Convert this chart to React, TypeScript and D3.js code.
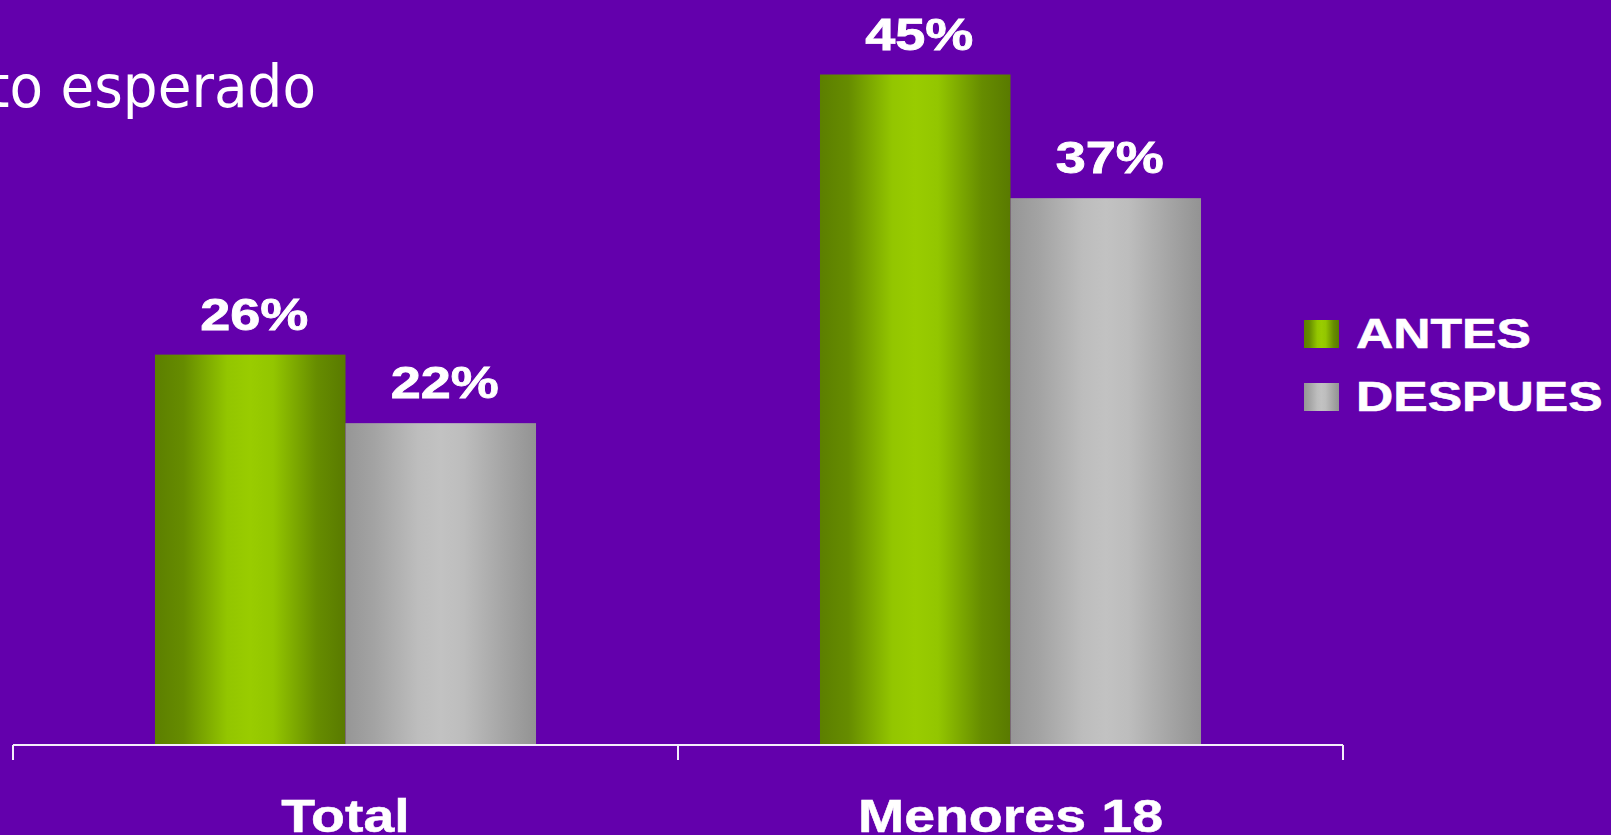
import React from "react";
import * as d3 from "d3";

const categories = ["Total", "Menores 18"];
const seriesNames = ["ANTES", "DESPUES"];
const antesValues = [26.2, 45.0];
const despuesValues = [21.6, 36.7];
const valueLabels = [["26%", "22%"], ["45%", "37%"]];
const titleText = "Impacto esperado";

const W = 1611;
const H = 835;
const BG = "#6300ac";

export default function App() {
  const baseY = 745;
  const y = d3.scaleLinear().domain([0, 50]).range([baseY, 0]);
  const x0 = d3.scaleBand<string>().domain(categories).range([13, 1343]).padding(0);
  const bw = x0.bandwidth();
  const x1 = d3.scaleBand<string>().domain(seriesNames).range([bw * 0.2135, bw * 0.7865]).padding(0);
  const seriesValues = [antesValues, despuesValues];
  const fills = ["url(#gGreen)", "url(#gGray)"];

  const tickXs = [...categories.map((c) => x0(c) as number), (x0(categories[categories.length - 1]) as number) + bw];

  const boldFont = { fontFamily: "'Liberation Sans', Arial, sans-serif", fontWeight: 700 } as const;

  return (
    <svg width={W} height={H} style={{ position: "absolute", left: 0, top: 0, display: "block" }}>
      <defs>
        <linearGradient id="gGreen" x1="0" x2="1" y1="0" y2="0">
          <stop offset="0" stopColor="#5c7f00" />
          <stop offset="0.15" stopColor="#668c00" />
          <stop offset="0.38" stopColor="#93c600" />
          <stop offset="0.5" stopColor="#99cc00" />
          <stop offset="0.62" stopColor="#93c600" />
          <stop offset="0.85" stopColor="#668c00" />
          <stop offset="1" stopColor="#597a00" />
        </linearGradient>
        <linearGradient id="gGray" x1="0" x2="1" y1="0" y2="0">
          <stop offset="0" stopColor="#969696" />
          <stop offset="0.15" stopColor="#a3a3a3" />
          <stop offset="0.38" stopColor="#bdbdbd" />
          <stop offset="0.5" stopColor="#c2c2c2" />
          <stop offset="0.62" stopColor="#bdbdbd" />
          <stop offset="0.85" stopColor="#a3a3a3" />
          <stop offset="1" stopColor="#939393" />
        </linearGradient>
      </defs>
      <rect x={0} y={0} width={W} height={H} fill={BG} />

      <text
        transform="translate(316,107) scale(0.93,1)"
        textAnchor="end"
        fill="#ffffff"
        style={{ fontFamily: "'DejaVu Sans', Verdana, sans-serif", fontSize: 59 }}
      >
        {titleText}
      </text>

      {categories.map((cat, ci) => (
        <g key={cat} transform={`translate(${x0(cat)},0)`}>
          {seriesNames.map((s, si) => {
            const v = seriesValues[si][ci];
            const bx = x1(s) as number;
            const bwid = x1.bandwidth();
            return (
              <g key={s}>
                <rect x={bx} y={y(v)} width={bwid} height={baseY - y(v)} fill={fills[si]} />
                <text
                  transform={`translate(${bx + bwid / 2 + 4},${y(v) - 25}) scale(1.2,1)`}
                  textAnchor="middle"
                  fill="#ffffff"
                  stroke="#ffffff"
                  strokeWidth={0.8}
                  style={{ ...boldFont, fontSize: 45 }}
                >
                  {valueLabels[ci][si]}
                </text>
              </g>
            );
          })}
          <text
            transform={`translate(${bw / 2},832) scale(1.18,1)`}
            textAnchor="middle"
            fill="#ffffff"
            stroke="#ffffff"
            strokeWidth={0.5}
            style={{ ...boldFont, fontSize: 47 }}
          >
            {cat}
          </text>
        </g>
      ))}

      <line x1={13} x2={1343} y1={baseY} y2={baseY} stroke="#f4eefa" strokeWidth={2} />
      {tickXs.map((tx, i) => (
        <line key={i} x1={tx} x2={tx} y1={baseY} y2={760} stroke="#f4eefa" strokeWidth={2} />
      ))}

      {seriesNames.map((s, si) => (
        <g key={s} transform={`translate(1304,${320 + si * 63})`}>
          <rect x={0} y={0} width={35} height={28} fill={fills[si]} />
          <text
            transform={`translate(52,28) scale(1.2,1)`}
            fill="#ffffff"
            stroke="#ffffff"
            strokeWidth={0.6}
            style={{ ...boldFont, fontSize: 43 }}
          >
            {s}
          </text>
        </g>
      ))}
    </svg>
  );
}
